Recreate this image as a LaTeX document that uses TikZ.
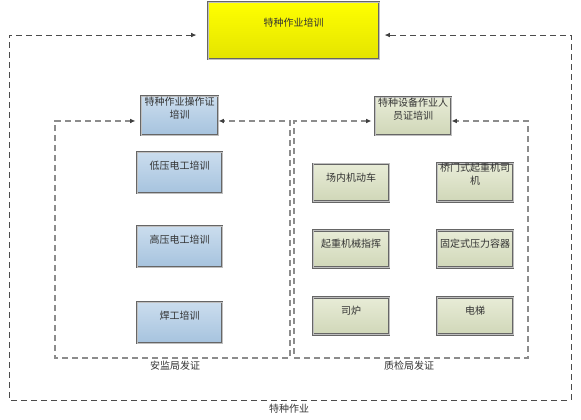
\documentclass[tikz,border=0pt]{standalone}
\usepackage{fontspec}
\newfontfamily\cjk{Noto Sans CJK SC}
\usetikzlibrary{arrows.meta,shadows}
\definecolor{blueTop}{RGB}{203,221,238}
\definecolor{blueBot}{RGB}{166,195,222}
\definecolor{greenTop}{RGB}{232,236,215}
\definecolor{greenBot}{RGB}{208,215,184}
\definecolor{yellowTop}{RGB}{255,255,0}
\definecolor{yellowBot}{RGB}{228,228,0}

\begin{document}
\begin{tikzpicture}[x=0.75pt,y=-0.75pt,
    >={Latex[length=4pt,width=3.5pt,color=black!75]},
    box/.style={draw=black!60, line width=0.7pt, double=white!75!black, double distance=0.6pt,
      inner sep=0pt, align=center, text=black!80, font=\cjk\fontsize{7.5}{9.75}\selectfont,
      drop shadow={shadow xshift=0.9pt, shadow yshift=-0.9pt, opacity=0.25}},
    bluebox/.style={box, top color=blueTop, bottom color=blueBot},
    greenbox/.style={box, top color=greenTop, bottom color=greenBot},
    outerline/.style={draw=black!70, line width=0.75pt, dash pattern=on 4.5pt off 3pt},
    innerline/.style={draw=black!45, line width=1.2pt, dash pattern=on 4.5pt off 3pt},
    lbl/.style={inner sep=0pt, text=black!80, font=\cjk\fontsize{7.5}{9}\selectfont}]
    \useasboundingbox (0,0) rectangle (581,419);
    % Top box
    \node[box, top color=yellowTop, bottom color=yellowBot, text width=128.25pt,
      text height=18.4pt, text depth=24.4pt] (top) at (293.5,30.5) {特种作业培训};
    % Group heads
    \node[bluebox, text width=57.75pt, text height=7.1pt, text depth=22.1pt]
      (ajHead) at (179.5,115.5) {特种作业操作证\\培训};
    \node[greenbox, text width=57pt, text height=7.1pt, text depth=21.4pt]
      (zjHead) at (413,116) {特种设备作业人\\员证培训};
    % Safety bureau courses
    \foreach \t/\y [count=\i] in {低压电工培训/172.5,高压电工培训/246.5,焊工培训/322.5} {
        \node[bluebox, text width=63.75pt, text height=13pt, text depth=17.75pt]
          (aj\i) at (179.5,\y) {\t};
    }
    % Quality bureau courses
    \foreach \t/\x/\y [count=\i] in {场内机动车/351/182.5,起重机械指挥/351/249,
        固定式压力容器/475/249,司炉/351/316,电梯/475/316} {
        \node[greenbox, text width=57pt, text height=13pt, text depth=15pt]
          (zj\i) at (\x,\y) {\t};
    }
    \node[greenbox, text width=57pt, text height=5.7pt, text depth=22.4pt]
      (zj6) at (475,182.5) {桥门式起重机司\\机};
    % Dashed loops
    \coordinate (oBL) at (9,400);
    \coordinate (oBR) at (571,400);
    \draw[outerline, <->] ([xshift=-8.25pt, yshift=-3.4pt]top.west) -| (oBL) -- (oBR)
      |- ([xshift=3.75pt, yshift=-3.4pt]top.east);
    \coordinate (ajBL) at (55,358);
    \coordinate (ajBR) at (290,358);
    \draw[innerline, <->] ([xshift=-3.75pt, yshift=-4.1pt]ajHead.west) -| (ajBL) -- (ajBR)
      |- ([yshift=-4.1pt]ajHead.east);
    \coordinate (zjBL) at (294,358);
    \coordinate (zjBR) at (528,358);
    \draw[innerline, <->] ([xshift=-2.25pt, yshift=-3.75pt]zjHead.west) -| (zjBL) -- (zjBR)
      |- ([yshift=-3.75pt]zjHead.east);
    % Labels
    \node[lbl] (ajLabel) at (175,366) {安监局发证};
    \node[lbl] (zjLabel) at (409,366) {质检局发证};
    \node[lbl] (tzLabel) at (289,409) {特种作业};
\end{tikzpicture}
\end{document}
